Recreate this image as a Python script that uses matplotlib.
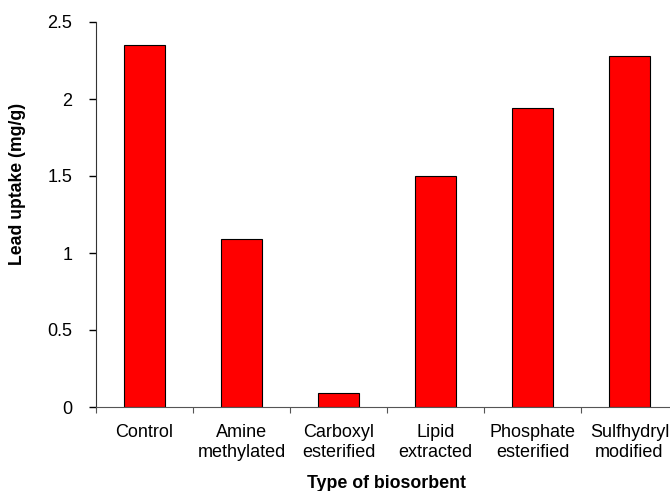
import matplotlib
matplotlib.use("Agg")
from matplotlib import pyplot as plt

categories = ["Control", "Amine\nmethylated", "Carboxyl\nesterified",
              "Lipid\nextracted", "Phosphate\nesterified", "Sulfhydryl\nmodified"]
uptake = [2.35, 1.09, 0.09, 1.50, 1.94, 2.28]
yticks = [0, 0.5, 1, 1.5, 2, 2.5]
ytick_labels = ["0", "0.5", "1", "1.5", "2", "2.5"]

plt.rcParams['font.family'] = ['Liberation Sans', 'DejaVu Sans']

fig = plt.figure(figsize=(6.7, 4.91), dpi=100)
ax = fig.add_axes([96/670, 1-407/491, 582/670, 385/491])

pos = range(len(categories))
ax.bar(pos, uptake, width=0.42, color='#ff0000', edgecolor='black', linewidth=0.8)

ax.set_xlim(-0.5, len(categories) - 0.5)
ax.set_ylim(0, 2.5)
ax.set_yticks(yticks)
ax.set_yticklabels(ytick_labels, fontsize=13)
ax.set_xticks([p + 0.5 for p in range(-1, len(categories))])
ax.set_xticklabels([])
ax.set_xticks(list(pos), minor=True)
ax.set_xticklabels(categories, minor=True, fontsize=13)
ax.tick_params(axis='x', which='minor', length=0, pad=12)
ax.tick_params(axis='x', which='major', direction='out', length=4, color='#555555')
ax.tick_params(axis='y', direction='out', length=5, width=1, pad=12)
for lab in ax.get_xticklabels(minor=True):
    lab.set_linespacing(1.25)

ax.spines['top'].set_visible(False)
ax.spines['right'].set_visible(False)
ax.spines['bottom'].set_color('#555555')
ax.spines['left'].set_color('#333333')

ax.set_xlabel("Type of biosorbent", fontsize=12.8, fontweight='bold', labelpad=10)
# y label sits a bit above the axis centre in the original
fig.text(18/670, 1-184/491, "Lead uptake (mg/g)", rotation=90, ha='center', va='center',
         fontsize=12.7, fontweight='bold')

fig.savefig("out.png", dpi=100)
